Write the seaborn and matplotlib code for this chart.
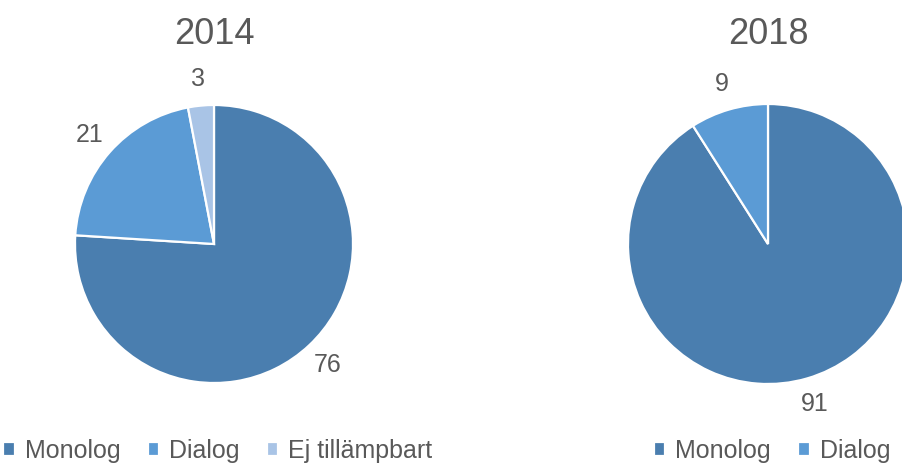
import matplotlib
matplotlib.use("Agg")
import matplotlib.pyplot as plt
import seaborn as sns

categories_2014 = ["Monolog", "Dialog", "Ej tillämpbart"]
values_2014 = [76, 21, 3]
categories_2018 = ["Monolog", "Dialog"]
values_2018 = [91, 9]
titles = ["2014", "2018"]
colors = ["#4A7EAF", "#5B9BD5", "#A9C4E6"]

sns.set_theme(style="white")
plt.rcParams["font.family"] = ["Liberation Sans", "DejaVu Sans"]
text_color = "#595959"

fig = plt.figure(figsize=(9.03, 4.63), dpi=100)

W, H = 903, 463

def add_pie(cx, cy, r, cats, vals, title):
    ax = fig.add_axes([(cx - r) / W, (H - cy - r) / H, 2 * r / W, 2 * r / H])
    wedges, texts = ax.pie(
        vals,
        labels=[str(v) for v in vals],
        colors=sns.color_palette(colors[:len(vals)]),
        startangle=90,
        counterclock=False,
        labeldistance=1.19,
        wedgeprops=dict(edgecolor="white", linewidth=1.6),
        textprops=dict(fontsize=18, color=text_color),
    )
    for t in texts:
        t.set_ha("center")
        t.set_va("center")
    ax.set_xlim(-1, 1)
    ax.set_ylim(-1, 1)
    ax.set_aspect("equal")
    ax.axis("off")
    fig.text(cx / W, (H - 34) / H, title, ha="center", va="center",
             fontsize=26, color=text_color)
    fig.legend(
        wedges, cats, loc="center",
        bbox_to_anchor=((cx + 4) / W, (H - 451) / H),
        ncol=len(cats), frameon=False,
        fontsize=18, handlelength=0.45, handleheight=0.5,
        handletextpad=0.4, columnspacing=1.1,
        labelcolor=text_color,
    )
    return ax

add_pie(214, 244, 139, categories_2014, values_2014, titles[0])
add_pie(768, 244, 140, categories_2018, values_2018, titles[1])

fig.savefig("out.png", dpi=100, facecolor="white")
